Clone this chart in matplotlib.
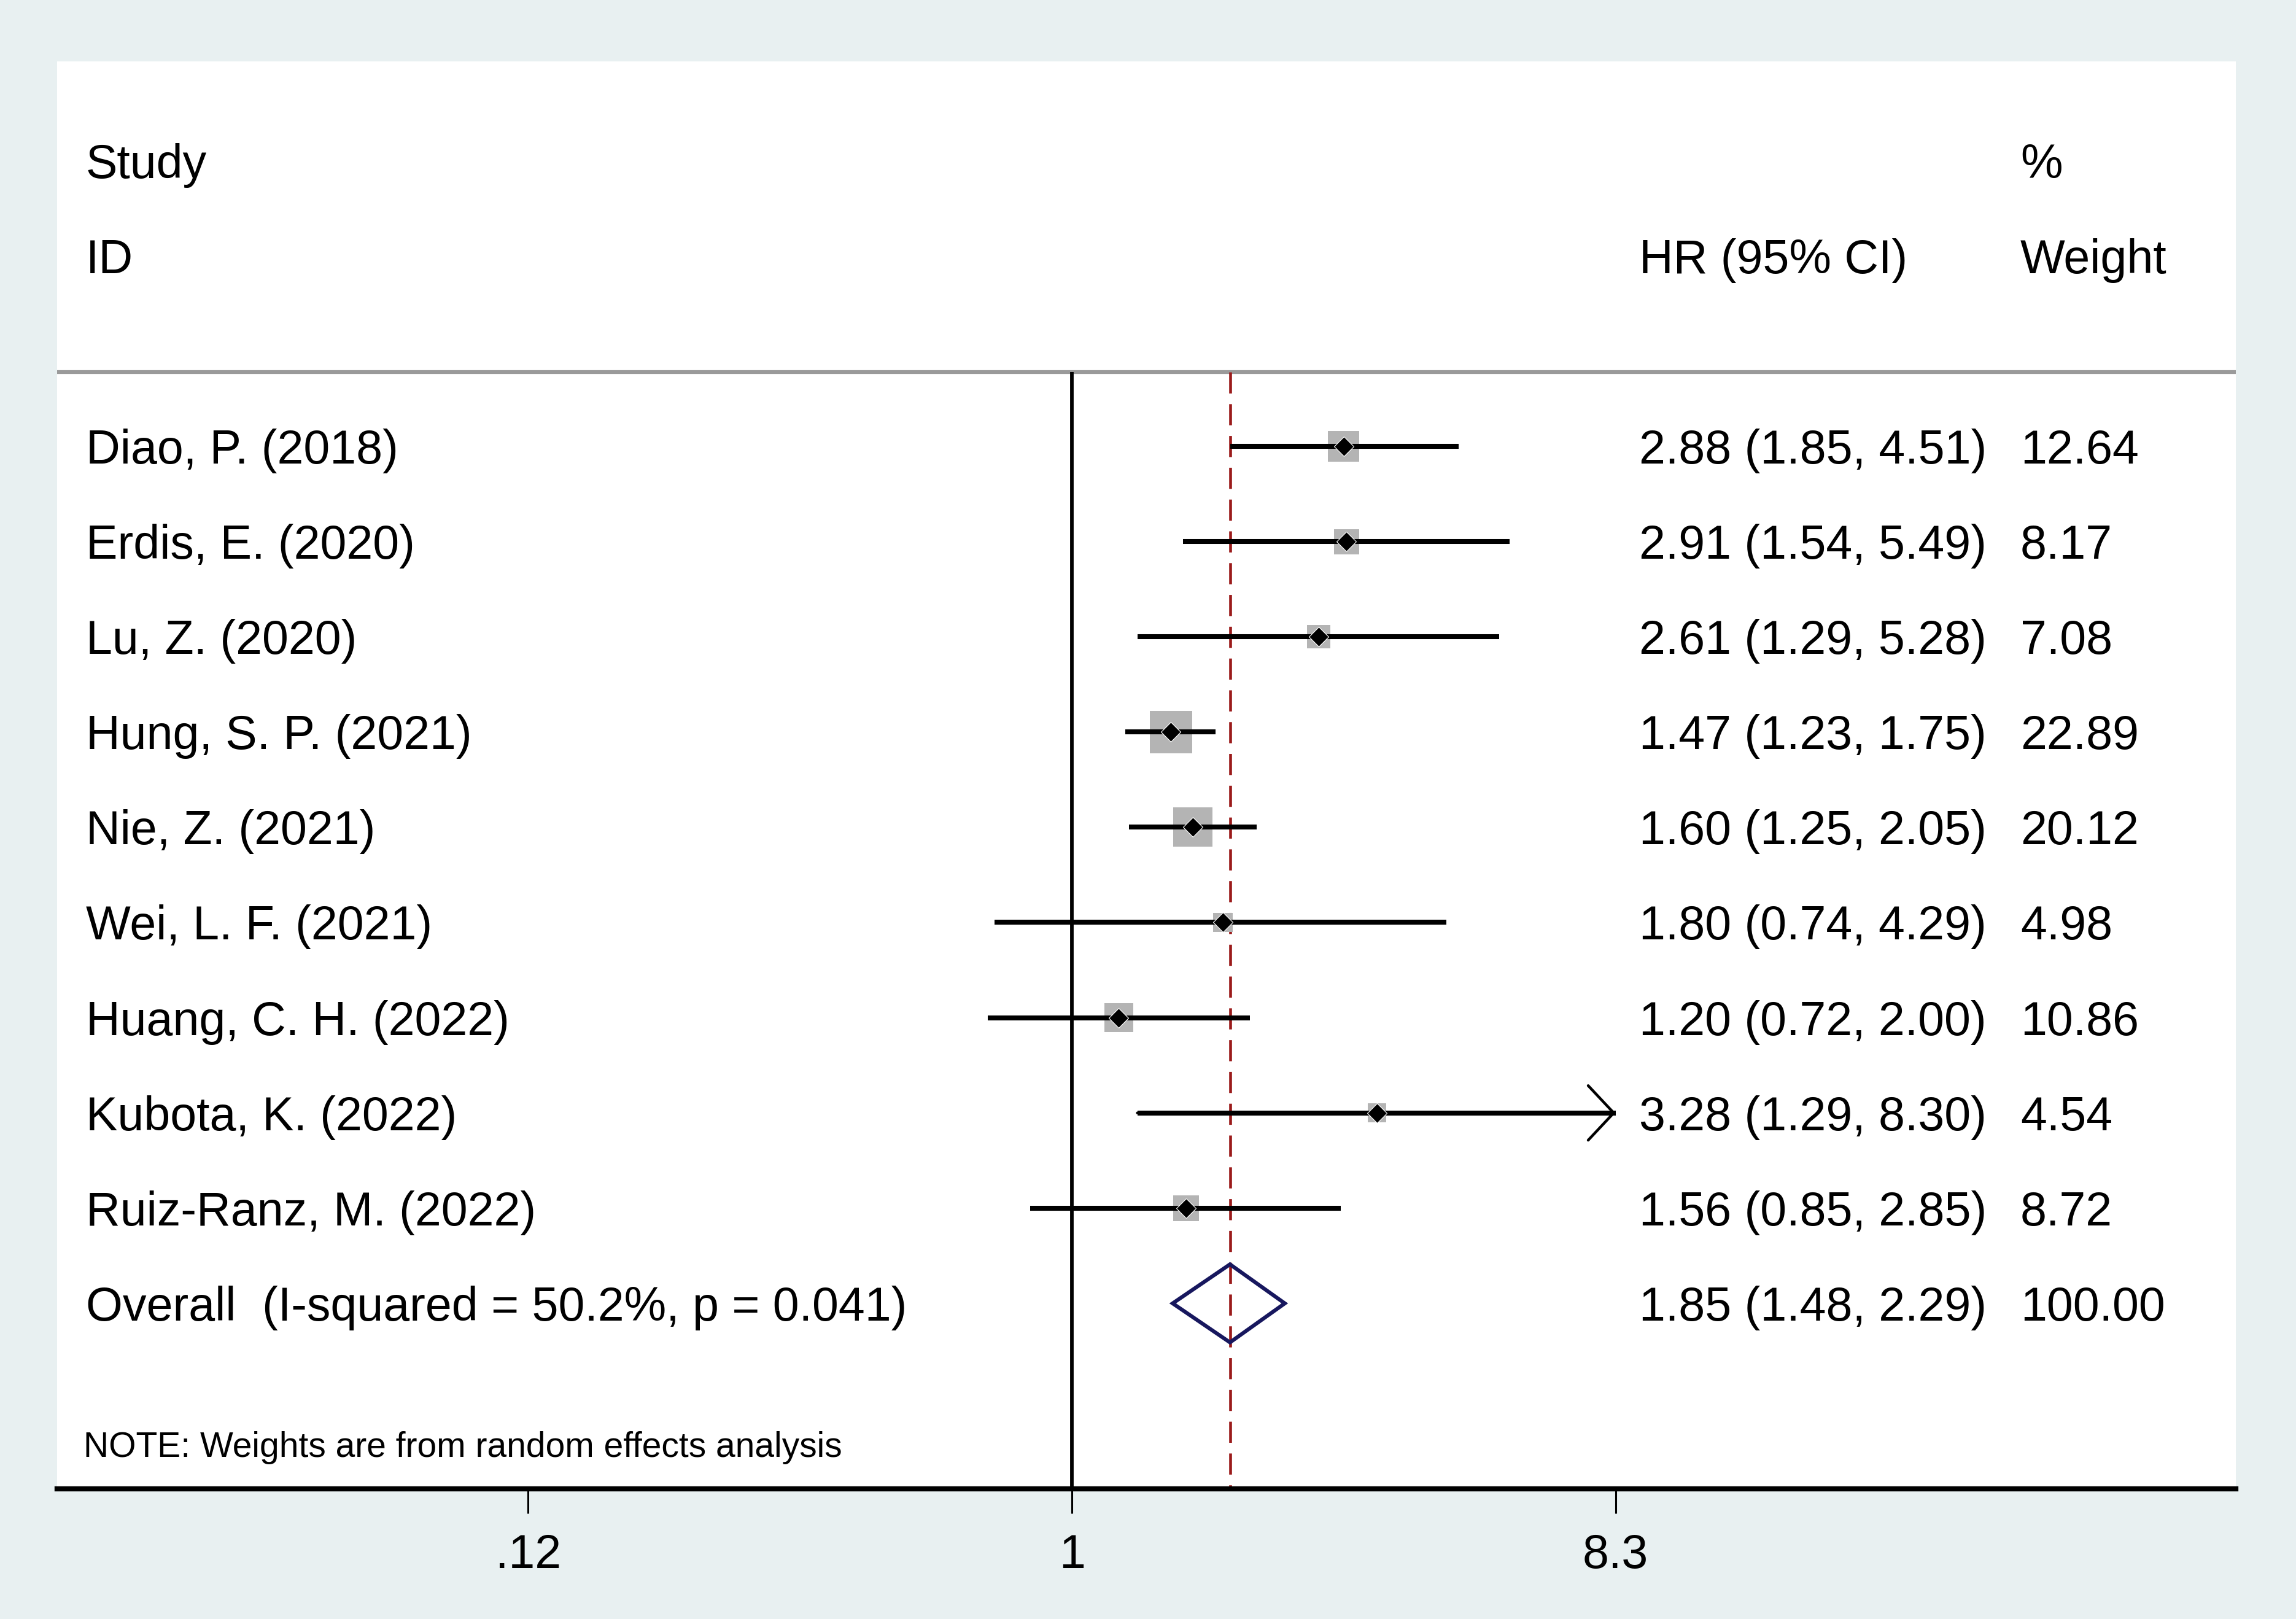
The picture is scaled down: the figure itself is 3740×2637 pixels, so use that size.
import numpy as np
import matplotlib
matplotlib.use("Agg")
import matplotlib.pyplot as plt
import matplotlib.transforms as mtransforms

plt.rcParams['font.family'] = ['Liberation Sans', 'DejaVu Sans']

studies = ["Diao, P. (2018)", "Erdis, E. (2020)", "Lu, Z. (2020)", "Hung, S. P. (2021)",
           "Nie, Z. (2021)", "Wei, L. F. (2021)", "Huang, C. H. (2022)", "Kubota, K. (2022)",
           "Ruiz-Ranz, M. (2022)"]
hr = [2.88, 2.91, 2.61, 1.47, 1.60, 1.80, 1.20, 3.28, 1.56]
lower = [1.85, 1.54, 1.29, 1.23, 1.25, 0.74, 0.72, 1.29, 0.85]
upper = [4.51, 5.49, 5.28, 1.75, 2.05, 4.29, 2.00, 8.30, 2.85]
weight = [12.64, 8.17, 7.08, 22.89, 20.12, 4.98, 10.86, 4.54, 8.72]

overall_label = "Overall  (I-squared = 50.2%, p = 0.041)"
overall_hr, overall_lo, overall_hi, overall_w = 1.85, 1.48, 2.29, 100.00

tick_values = [1 / 8.3, 1, 8.3]
tick_labels = [".12", "1", "8.3"]
note = "NOTE: Weights are from random effects analysis"

BG = "#E8F0F1"
W, H, DPI = 3740, 2637, 100
fig = plt.figure(figsize=(W / DPI, H / DPI), dpi=DPI, facecolor=BG)

px_l, px_r, px_t, px_b = 93, 3642, 100, 2425
ax = fig.add_axes([px_l / W, 1 - px_b / H, (px_r - px_l) / W, (px_b - px_t) / H])
ax.set_facecolor("white")

ax.set_xscale("log")
ax.set_xlim(0.01925, 92.8)
row0_px, row_step = 727, 155.1
ylo = 1 + (px_b - row0_px) / row_step
yhi = 1 + (px_t - row0_px) / row_step
ax.set_ylim(ylo, yhi)

rows = np.arange(1, len(studies) + 1)
overall_row = len(studies) + 1
sep_row = 0.22
xmax_axis = max(tick_values)

# separator + reference lines
ax.axhline(sep_row, color="#9A9A9A", lw=4.5, zorder=1)
ax.vlines(1, sep_row, ylo, color="black", lw=4.2, zorder=2)
ax.vlines(overall_hr, sep_row, ylo, color="#9B1B1B", lw=3.3, zorder=2,
          linestyles=(0, (7.5, 3.8)))

# weight squares
ax.scatter(hr, rows, s=[106 * w for w in weight], marker="s", color="#B4B4B4",
           edgecolors="none", zorder=3)

# CI lines
for r, lo, hi in zip(rows, lower, upper):
    if hi >= xmax_axis:
        ax.hlines(r, lo, xmax_axis, color="black", lw=5.8, zorder=4)
        ax.annotate("", xy=(xmax_axis, r), xytext=(lo, r),
                    arrowprops=dict(arrowstyle="->,head_length=3.0,head_width=3.2",
                                    lw=3.2, color="black", mutation_scale=10,
                                    shrinkA=0, shrinkB=0), zorder=4)
    else:
        ax.hlines(r, lo, hi, color="black", lw=5.8, zorder=4)

# point estimates
ax.plot(hr, rows, linestyle="none", marker="D", ms=16, color="black",
        mec="white", mew=0.8, zorder=5)

# overall diamond
half_h = 0.41
ax.fill([overall_lo, overall_hr, overall_hi, overall_hr, overall_lo],
        [overall_row, overall_row - half_h, overall_row, overall_row + half_h, overall_row],
        facecolor="none", edgecolor="#17175E", lw=4.5, zorder=5, joinstyle="miter")

# text
fs = 55.5
x_study, x_hr, x_w = 0.0132, 0.7261, 0.9011
blend = mtransforms.blended_transform_factory(ax.transAxes, ax.transData)
off = 0.18

def put(x, y, s, size=fs):
    ax.text(x, y + off, s, transform=blend, fontsize=size, va="baseline",
            ha="left", color="black", zorder=6)

put(x_study, -2, "Study")
put(x_study, -1, "ID")
put(x_w, -2, "%")
put(x_hr, -1, "HR (95% CI)")
put(x_w, -1, "Weight")
for r, name, h, lo, hi, w in zip(rows, studies, hr, lower, upper, weight):
    put(x_study, r, name)
    put(x_hr, r, f"{h:.2f} ({lo:.2f}, {hi:.2f})")
    put(x_w, r, f"{w:.2f}")
put(x_study, overall_row, overall_label)
put(x_hr, overall_row, f"{overall_hr:.2f} ({overall_lo:.2f}, {overall_hi:.2f})")
put(x_w, overall_row, f"{overall_w:.2f}")
ax.text(0.0121, 11.47 + 0.14, note, fontsize=41, va="baseline", ha="left",
        transform=blend)

# axes styling
for s in ["top", "left", "right"]:
    ax.spines[s].set_visible(False)
ax.spines["bottom"].set_linewidth(6)
ax.set_yticks([])
ax.set_xticks(tick_values)
ax.set_xticklabels(tick_labels)
ax.minorticks_off()
ax.tick_params(axis="x", which="major", direction="out", length=29, width=2.2,
               labelsize=fs, pad=23, color="black")
ax.tick_params(axis="x", which="minor", length=0)

fig.savefig("out.png", dpi=DPI, facecolor=BG)
